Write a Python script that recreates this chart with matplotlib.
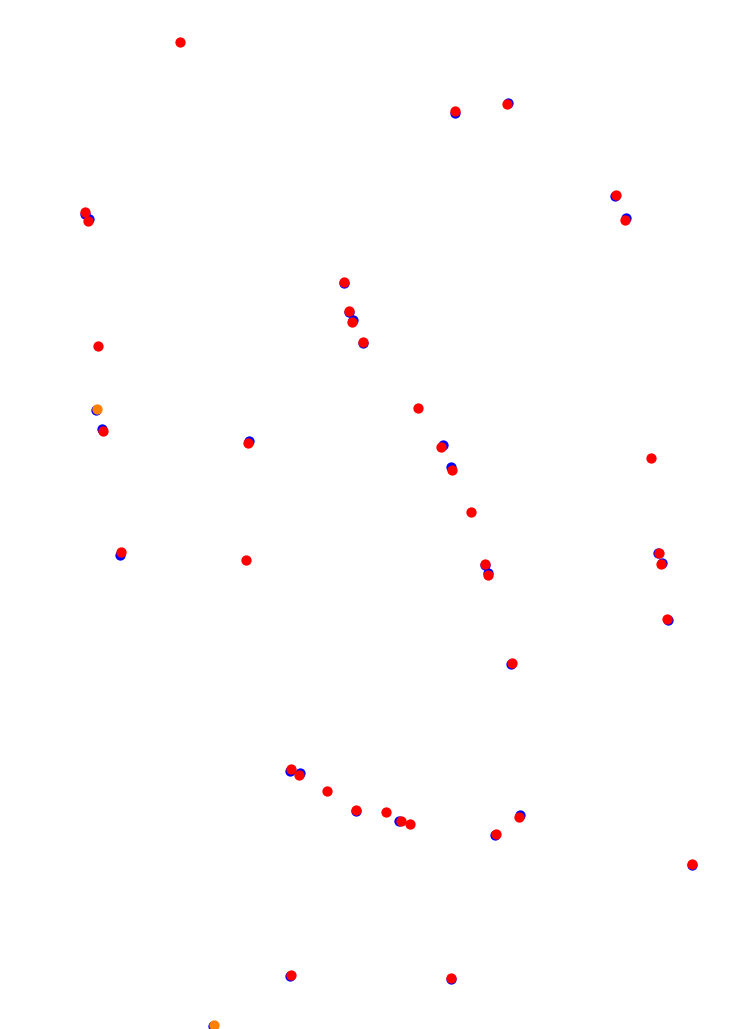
import matplotlib
matplotlib.use("Agg")
import matplotlib.pyplot as plt

# pixel-space positions (x to the right, y downward)
blue_x = [455, 508, 85, 89, 615, 626, 344, 349, 353, 363, 96, 102, 249, 443, 451,
          120, 485, 488, 658, 662, 668, 511, 290, 300, 356, 399, 495, 520, 692, 290,
          451, 213]
blue_y = [113, 103, 214, 219, 196, 218, 283, 312, 320, 343, 410, 429, 441, 445, 467,
          555, 565, 573, 553, 563, 620, 664, 771, 773, 811, 821, 835, 815, 865, 976,
          979, 1026]

red_x = [180, 455, 507, 85, 88, 616, 625, 344, 349, 352, 363, 98, 103, 248, 418,
         441, 452, 651, 471, 121, 246, 485, 488, 659, 661, 667, 512, 291, 299, 327,
         356, 386, 401, 410, 496, 519, 692, 291, 451]
red_y = [42, 111, 104, 212, 221, 195, 220, 282, 311, 322, 342, 346, 431, 443, 408,
         447, 470, 458, 512, 552, 560, 564, 575, 553, 564, 619, 663, 769, 775, 791,
         810, 812, 821, 824, 834, 817, 864, 975, 978]

orange_x = [97, 214]
orange_y = [409, 1025]

fig = plt.figure(figsize=(7.38, 10.29), dpi=100)
ax = fig.add_axes([0, 0, 1, 1])
ax.scatter(blue_x, blue_y, s=55, c="#0000ff", edgecolors="none")
ax.scatter(red_x, red_y, s=55, c="#ff0000", edgecolors="none")
ax.scatter(orange_x, orange_y, s=55, c="#ff8000", edgecolors="none")
ax.set_xlim(-0.5, 737.5)
ax.set_ylim(1028.5, -0.5)
ax.axis("off")
fig.savefig("out.png", dpi=100)
